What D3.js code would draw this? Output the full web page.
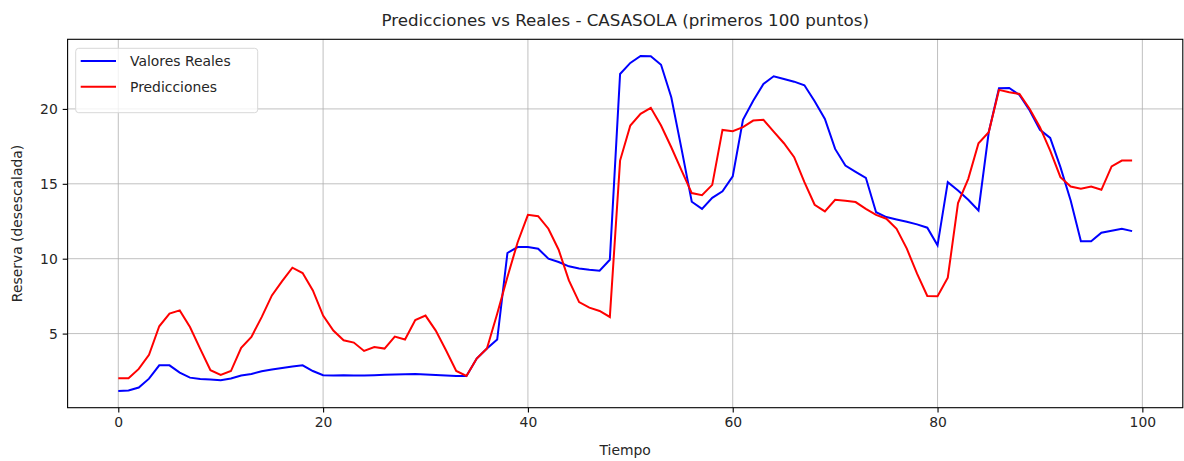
<!DOCTYPE html>
<html><head><meta charset="utf-8">
<script src="https://cdn.jsdelivr.net/npm/d3@7"></script>
<style>body{margin:0;background:#fff}svg{font-family:"DejaVu Sans",sans-serif}</style>
</head><body><svg id="c" width="1184" height="461"></svg>
<script>
const title = "Predicciones vs Reales - CASASOLA (primeros 100 puntos)";
const xLabel = "Tiempo";
const yLabel = "Reserva (desescalada)";
const seriesNames = ["Valores Reales", "Predicciones"];
const xTicks = [0, 20, 40, 60, 80, 100];
const yTicks = [5, 10, 15, 20];
const reales = [1.17,1.2,1.4,1.99,2.88,2.88,2.4,2.06,1.97,1.93,1.89,2.0,2.2,2.3,2.49,2.6,2.7,2.8,2.88,2.5,
  2.22,2.2,2.22,2.2,2.2,2.22,2.25,2.27,2.28,2.3,2.27,2.24,2.21,2.17,2.17,3.33,4.0,4.6,10.38,10.78,
  10.78,10.67,10.0,9.78,9.49,9.35,9.26,9.2,9.93,22.33,23.07,23.53,23.51,22.95,20.78,17.33,13.8,13.33,14.06,14.5,
  15.5,19.27,20.55,21.67,22.18,22.0,21.82,21.58,20.51,19.33,17.33,16.22,15.8,15.4,13.1,12.78,12.62,12.47,12.29,12.07,
  10.89,15.11,14.55,13.93,13.22,18.44,21.38,21.4,20.93,19.89,18.6,18.06,16.11,13.89,11.16,11.16,11.73,11.87,12.0,11.84];
const predicciones = [2.02,2.02,2.64,3.58,5.49,6.33,6.55,5.44,3.98,2.55,2.24,2.5,4.05,4.78,6.1,7.55,8.5,9.4,9.04,7.88,
  6.2,5.2,4.55,4.4,3.84,4.1,4.0,4.8,4.6,5.9,6.2,5.2,3.89,2.51,2.17,3.33,4.0,6.33,8.78,11.1,
  12.93,12.84,12.0,10.6,8.55,7.1,6.73,6.51,6.11,16.55,18.89,19.67,20.07,18.89,17.44,15.9,14.38,14.24,14.93,18.6,
  18.51,18.78,19.22,19.27,18.49,17.71,16.78,15.11,13.6,13.16,13.93,13.87,13.78,13.33,12.93,12.67,12.0,10.67,9.0,7.51,
  7.49,8.73,13.71,15.33,17.71,18.44,21.27,21.11,21.0,20.0,18.78,17.22,15.44,14.82,14.67,14.82,14.6,16.16,16.55,16.55];

const svg = d3.select("#c");
const L = 67.6, R = 1182.8, T = 39.3, B = 407.7;
const n = reales.length;
const all = reales.concat(predicciones);
const ymin = d3.min(all), ymax = d3.max(all), yr = ymax - ymin;
const x = d3.scaleLinear().domain([-0.05*(n-1), (n-1)*1.05]).range([L, R]);
const y = d3.scaleLinear().domain([ymin - 0.05*yr, ymax + 0.05*yr]).range([B, T]);

// grid
const g = svg.append("g");
g.selectAll(".gx").data(xTicks).join("line").attr("x1",d=>x(d)).attr("x2",d=>x(d)).attr("y1",T).attr("y2",B)
  .attr("stroke","#b0b0b0").attr("stroke-width",0.8);
g.selectAll(".gy").data(yTicks).join("line").attr("y1",d=>y(d)).attr("y2",d=>y(d)).attr("x1",L).attr("x2",R)
  .attr("stroke","#b0b0b0").attr("stroke-width",0.8);

// lines
const line = d3.line().x((d,i)=>x(i)).y(d=>y(d));
svg.append("path").datum(reales).attr("d",line).attr("fill","none").attr("stroke","#0000ff").attr("stroke-width",2);
svg.append("path").datum(predicciones).attr("d",line).attr("fill","none").attr("stroke","#ff0000").attr("stroke-width",2);

// axes
const xa = svg.append("g").attr("transform",`translate(0,${B})`)
  .call(d3.axisBottom(x).tickValues(xTicks).tickSize(4.9).tickPadding(4.9));
const ya = svg.append("g").attr("transform",`translate(${L},0)`)
  .call(d3.axisLeft(y).tickValues(yTicks).tickSize(4.9).tickPadding(4.9));
[xa,ya].forEach(a=>{a.select(".domain").remove();
  a.selectAll("text").attr("font-size","13.9px").attr("fill","#262626").attr("font-family","DejaVu Sans");
  a.selectAll("line").attr("stroke","#000").attr("stroke-width",1.1);});

svg.append("rect").attr("x",L).attr("y",T).attr("width",R-L).attr("height",B-T)
  .attr("fill","none").attr("stroke","#000").attr("stroke-width",1.1);

// labels
svg.append("text").attr("x",(L+R)/2).attr("y",26).attr("text-anchor","middle").attr("font-size","16.7px").attr("fill","#262626").text(title);
svg.append("text").attr("x",(L+R)/2).attr("y",455).attr("text-anchor","middle").attr("font-size","13.9px").attr("fill","#262626").text(xLabel);
svg.append("text").attr("transform",`translate(22,${(T+B)/2}) rotate(-90)`).attr("text-anchor","middle").attr("font-size","13.9px").attr("fill","#262626").text(yLabel);

// legend
const lg = svg.append("g");
lg.append("rect").attr("x",75.7).attr("y",48.3).attr("width",182).attr("height",64.4).attr("rx",3)
  .attr("fill","#fff").attr("fill-opacity",0.8).attr("stroke","#d8d8d8").attr("stroke-width",1);
const colors = ["#0000ff","#ff0000"];
seriesNames.forEach((s,i)=>{
  const yy = 61 + i*25.7;
  lg.append("line").attr("x1",80.7).attr("x2",116).attr("y1",yy).attr("y2",yy).attr("stroke",colors[i]).attr("stroke-width",2);
  lg.append("text").attr("x",130).attr("y",yy+5).attr("font-size","13.9px").attr("fill","#262626").text(s);
});
</script></body></html>
